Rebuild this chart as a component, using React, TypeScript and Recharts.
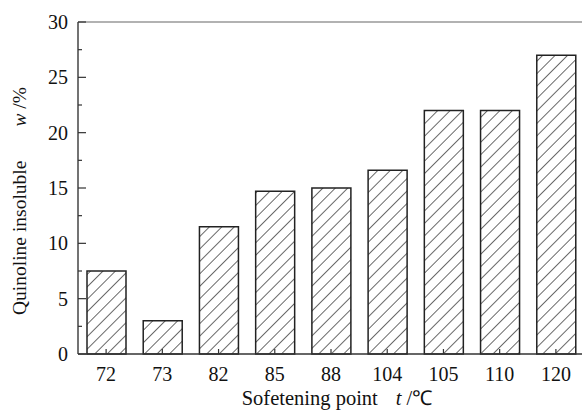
import { BarChart, Bar, XAxis, YAxis, ReferenceLine, Label } from "recharts";

// softening point categories (°C) and quinoline insoluble content (w/%)
const softeningPoints = ["72", "73", "82", "85", "88", "104", "105", "110", "120"];
const qiValues = [7.5, 3.0, 11.5, 14.7, 15.0, 16.6, 22.0, 22.0, 27.0];
const yTicks = [0, 2.5, 5, 7.5, 10, 12.5, 15, 17.5, 20, 22.5, 25, 27.5, 30];

const FONT = '"Liberation Serif", "Times New Roman", serif';

const data = softeningPoints.map((t, i) => ({ t, qi: qiValues[i] }));

function YTick(props: any) {
  const { x, y, payload } = props;
  const major = payload.value % 5 === 0;
  const axisX = x + 10;
  return (
    <g>
      <line
        x1={axisX}
        x2={axisX + (major ? 8 : 4)}
        y1={y}
        y2={y}
        stroke="#333"
        strokeWidth={1.2}
      />
      {major && (
        <text
          x={x}
          y={y}
          dy={7}
          textAnchor="end"
          fontFamily={FONT}
          fontSize={20}
          fill="#111"
        >
          {payload.value}
        </text>
      )}
    </g>
  );
}

function XTick(props: any) {
  const { x, y, payload } = props;
  return (
    <g>
      <line x1={x} x2={x} y1={y} y2={y - 5} stroke="#333" strokeWidth={1.2} />
      <text
        x={x}
        y={y + 27}
        textAnchor="middle"
        fontFamily={FONT}
        fontSize={20}
        fill="#111"
      >
        {payload.value}
      </text>
    </g>
  );
}

export default function App() {
  return (
    <div
      style={{
        position: "absolute",
        left: 0,
        top: 0,
        width: 582,
        height: 411,
        overflow: "hidden",
        background: "#fff",
      }}
    >
      <BarChart
        width={600}
        height={411}
        data={data}
        margin={{ top: 22, right: 16, bottom: 0, left: 0 }}
        barCategoryGap={0}
      >
        <defs>
          <pattern
            id="hatch"
            patternUnits="userSpaceOnUse"
            width={8.8}
            height={8.8}
            patternTransform="rotate(45)"
          >
            <rect width={8.8} height={8.8} fill="#fff" />
            <line x1={0} y1={0} x2={0} y2={8.8} stroke="#444" strokeWidth={1.6} />
          </pattern>
        </defs>
        <ReferenceLine y={30} stroke="#999" strokeWidth={1.5} />
        <XAxis
          dataKey="t"
          height={57}
          tickSize={0}
          tickMargin={0}
          interval={0}
          axisLine={{ stroke: "#333", strokeWidth: 1.5 }}
          tickLine={false}
          tick={<XTick />}
        >
          <Label
            content={(p: any) => {
              const vb = p.viewBox;
              return (
                <text
                  x={vb.x + vb.width / 2 + 6}
                  y={vb.y + 51}
                  textAnchor="middle"
                  fontFamily={FONT}
                  fontSize={20.5}
                  fill="#111"
                >
                  Sofetening point
                  <tspan dx={18} fontStyle="italic">t</tspan>
                  <tspan> /℃</tspan>
                </text>
              );
            }}
          />
        </XAxis>
        <YAxis
          type="number"
          domain={[0, 30]}
          ticks={yTicks}
          width={78}
          tickSize={0}
          tickMargin={10}
          interval={0}
          axisLine={{ stroke: "#444", strokeWidth: 1.5 }}
          tickLine={false}
          tick={<YTick />}
        >
          <Label
            content={(p: any) => {
              const vb = p.viewBox;
              const cx = vb.x + 26;
              const cy = vb.y + vb.height / 2 + 13;
              return (
                <text
                  x={cx}
                  y={cy}
                  transform={`rotate(-90, ${cx}, ${cy})`}
                  textAnchor="middle"
                  fontFamily={FONT}
                  fontSize={19.5}
                  fill="#111"
                >
                  Quinoline insoluble
                  <tspan dx={34} fontStyle="italic">w</tspan>
                  <tspan> /%</tspan>
                </text>
              );
            }}
          />
        </YAxis>
        <Bar
          dataKey="qi"
          barSize={39}
          fill="url(#hatch)"
          stroke="#222"
          strokeWidth={1.5}
          isAnimationActive={false}
        />
      </BarChart>
    </div>
  );
}
